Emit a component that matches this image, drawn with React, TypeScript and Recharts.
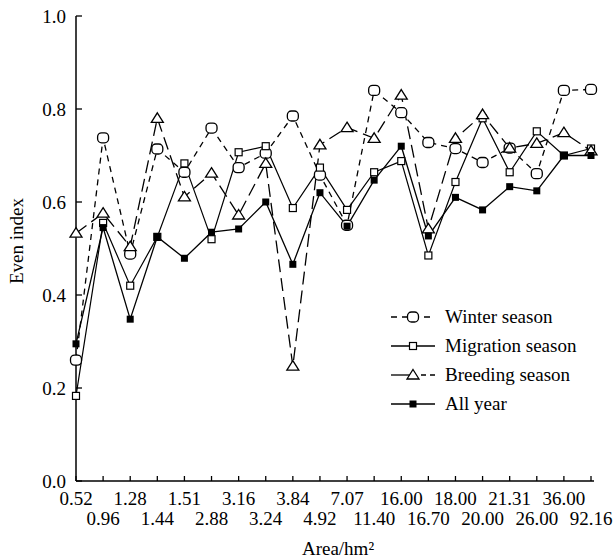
import React from "react";
import { LineChart, Line, XAxis, YAxis, Legend, Label } from "recharts";

const areas = ["0.52", "0.96", "1.28", "1.44", "1.51", "2.88", "3.16", "3.24", "3.84", "4.92", "7.07", "11.40", "16.00", "16.70", "18.00", "20.00", "21.31", "26.00", "36.00", "92.16"];

const winter = [0.26, 0.738, 0.488, 0.714, 0.664, 0.759, 0.674, 0.705, 0.785, 0.658, 0.55, 0.84, 0.792, 0.728, 0.715, 0.685, 0.716, 0.661, 0.84, 0.842];
const migration = [0.183, 0.555, 0.42, 0.525, 0.683, 0.52, 0.707, 0.72, 0.587, 0.674, 0.583, 0.664, 0.688, 0.485, 0.643, 0.78, 0.664, 0.752, 0.7, 0.715];
const breeding = [0.533, 0.576, 0.504, 0.78, 0.611, 0.662, 0.572, 0.683, 0.247, 0.723, 0.76, 0.737, 0.83, 0.542, 0.737, 0.788, 0.716, 0.726, 0.749, 0.71];
const allYear = [0.295, 0.545, 0.348, 0.525, 0.479, 0.535, 0.542, 0.6, 0.466, 0.62, 0.548, 0.647, 0.72, 0.527, 0.61, 0.583, 0.633, 0.624, 0.7, 0.7];

const yTicks = [0, 0.2, 0.4, 0.6, 0.8, 1.0];

const data = areas.map((area, i) => ({
  area,
  winter: winter[i],
  migration: migration[i],
  breeding: breeding[i],
  allYear: allYear[i],
}));

const FONT = "'Liberation Serif', 'Times New Roman', serif";
const INK = "#000000";

// marker shapes
function RoundBox({ cx, cy }: any) {
  if (cx == null || cy == null) return null;
  return <rect x={cx - 5.5} y={cy - 5} width={11} height={10} rx={4} fill="#fff" stroke={INK} strokeWidth={1.3} />;
}
function OpenSquare({ cx, cy }: any) {
  if (cx == null || cy == null) return null;
  return <rect x={cx - 3.5} y={cy - 3.5} width={7} height={7} fill="#fff" stroke={INK} strokeWidth={1.2} />;
}
function Tri({ cx, cy }: any) {
  if (cx == null || cy == null) return null;
  return <polygon points={`${cx},${cy - 5.5} ${cx + 6},${cy + 4} ${cx - 6},${cy + 4}`} fill="#fff" stroke={INK} strokeWidth={1.3} />;
}
function BlackSquare({ cx, cy }: any) {
  if (cx == null || cy == null) return null;
  return <rect x={cx - 3.5} y={cy - 3.5} width={7} height={7} fill={INK} />;
}

function AreaTick({ x, y, payload, index }: any) {
  const i = index ?? areas.indexOf(payload.value);
  return (
    <text x={x} y={y + (i % 2 ? 49 : 29)} textAnchor="middle" fontFamily={FONT} fontSize={19} fill={INK}>
      {payload.value}
    </text>
  );
}

const legendRows = [
  { name: "Winter season", dash: "6 5", Marker: RoundBox },
  { name: "Migration season", dash: undefined, Marker: OpenSquare },
  { name: "Breeding season", dash: undefined, Marker: Tri },
  { name: "All year", dash: undefined, Marker: BlackSquare },
];

function LegendBox() {
  return (
    <svg width={230} height={120}>
      {legendRows.map((r, i) => {
        const y = 17 + i * 29;
        return (
          <g key={r.name}>
            {i === 2 ? (
              <>
                <line x1={6} x2={28} y1={y} y2={y} stroke={INK} strokeWidth={1.3} />
                <line x1={28} x2={50} y1={y} y2={y} stroke={INK} strokeWidth={1.3} strokeDasharray="0 8 5 4 5" />
              </>
            ) : (
              <line x1={6} x2={50} y1={y} y2={y} stroke={INK} strokeWidth={1.3} strokeDasharray={r.dash} />
            )}
            <r.Marker cx={28} cy={y} />
            <text x={60} y={y + 6} fontFamily={FONT} fontSize={19} fill={INK}>
              {r.name}
            </text>
          </g>
        );
      })}
    </svg>
  );
}

export default function App() {
  return (
    <div style={{ position: "absolute", left: 0, top: 0, background: "#fff" }}>
      <LineChart width={614} height={559} data={data} margin={{ top: 16, right: 20, bottom: 0, left: 0 }}>
        <XAxis
          dataKey="area"
          height={78}
          interval={0}
          padding={{ left: 0, right: 3 }}
          tickSize={-5}
          tickMargin={0}
          tick={<AreaTick />}
          axisLine={{ stroke: INK, strokeWidth: 1.5 }}
          tickLine={{ stroke: INK, strokeWidth: 1.3 }}
        >
          <Label
            content={() => (
              <text x={338} y={555} textAnchor="middle" fontFamily={FONT} fontSize={19} style={{ fill: INK }}>
                Area/hm²
              </text>
            )}
          />
        </XAxis>
        <YAxis
          width={76}
          domain={[0, 1]}
          ticks={yTicks}
          tickFormatter={(v: number) => v.toFixed(1)}
          tickSize={-6}
          tickMargin={16}
          tick={{ fontFamily: FONT, fontSize: 19, fill: INK }}
          axisLine={{ stroke: INK, strokeWidth: 1.5 }}
          tickLine={{ stroke: INK, strokeWidth: 1.3 }}
        >
          <Label
            content={() => (
              <text x={23} y={241} transform="rotate(-90 23 241)" textAnchor="middle" fontFamily={FONT} fontSize={19} style={{ fill: INK }}>
                Even index
              </text>
            )}
          />
        </YAxis>
        <Legend
          layout="vertical"
          align="center"
          verticalAlign="middle"
          wrapperStyle={{ left: 385, top: 300, width: 230 }}
          content={() => <LegendBox />}
        />
        <Line dataKey="winter" stroke={INK} strokeWidth={1.3} strokeDasharray="6 5" dot={<RoundBox />} isAnimationActive={false} />
        <Line dataKey="migration" stroke={INK} strokeWidth={1.2} dot={<OpenSquare />} isAnimationActive={false} />
        <Line dataKey="breeding" stroke={INK} strokeWidth={1.3} strokeDasharray="13 6" dot={<Tri />} isAnimationActive={false} />
        <Line dataKey="allYear" stroke={INK} strokeWidth={1.3} dot={<BlackSquare />} isAnimationActive={false} />
      </LineChart>
    </div>
  );
}
